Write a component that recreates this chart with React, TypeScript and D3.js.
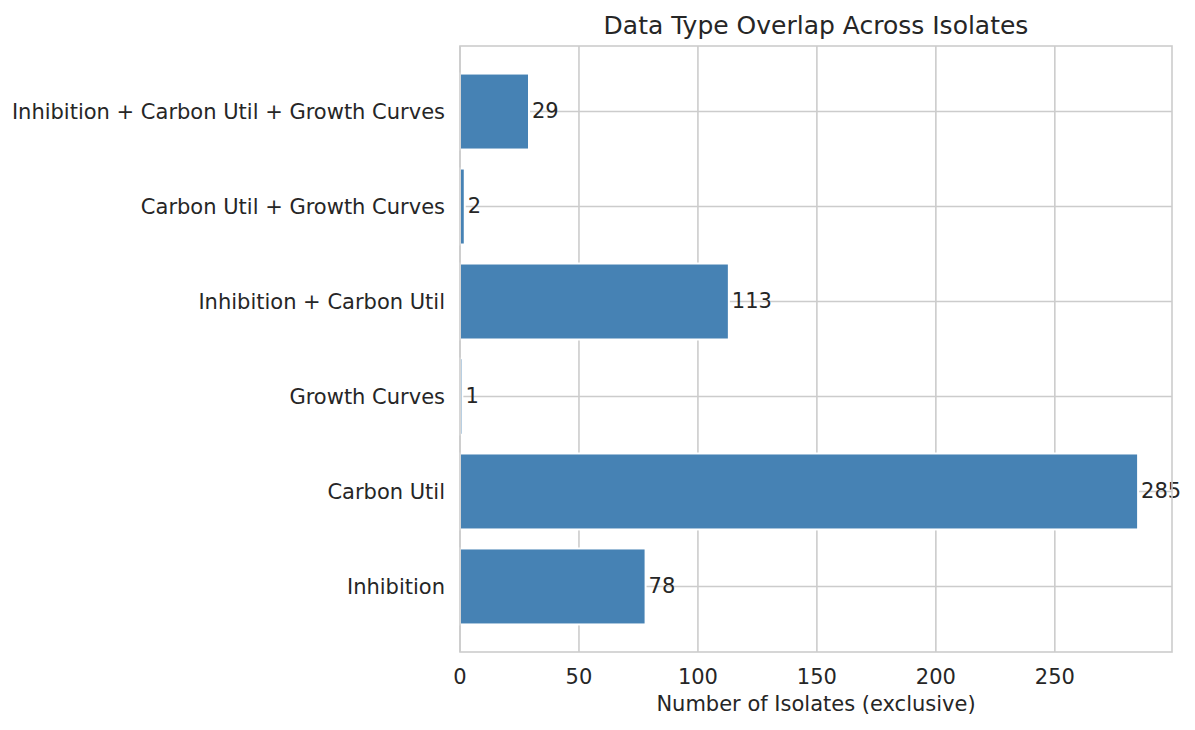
import React, { useEffect, useRef } from "react";
import * as d3 from "d3";

// Categories (bottom to top) and exclusive isolate counts
const categories = [
  "Inhibition",
  "Carbon Util",
  "Growth Curves",
  "Inhibition + Carbon Util",
  "Carbon Util + Growth Curves",
  "Inhibition + Carbon Util + Growth Curves",
];
const counts = [78, 285, 1, 113, 2, 29];
const xTicks = [0, 50, 100, 150, 200, 250];

const App: React.FC = () => {
  const svgRef = useRef<SVGSVGElement>(null);

  useEffect(() => {
    if (!svgRef.current) return;
    document.body.style.margin = "0";

    d3.select(svgRef.current).selectAll("*").remove();

    const width = 1195;
    const height = 730;
    const margin = { top: 46, right: 23, bottom: 78, left: 460 };
    const innerW = width - margin.left - margin.right;
    const innerH = height - margin.top - margin.bottom;
    const textColor = "#262626";
    const gridColor = "#cccccc";
    const font = "'DejaVu Sans', sans-serif";
    const tickSize = "21px";

    const svg = d3
      .select(svgRef.current)
      .attr("width", width)
      .attr("height", height)
      .style("display", "block")
      .style("font-family", font);

    svg.append("rect").attr("width", width).attr("height", height).attr("fill", "#ffffff");

    const g = svg
      .append("g")
      .attr("transform", `translate(${margin.left},${margin.top})`);

    const maxVal = d3.max(counts) || 0;
    const x = d3
      .scaleLinear()
      .domain([0, maxVal * 1.05])
      .range([0, innerW]);

    // matplotlib-like y limits: bar height 0.8, 5% margins
    const n = categories.length;
    const lo = -0.4 - 0.05 * (n - 1 + 0.8);
    const hi = n - 1 + 0.4 + 0.05 * (n - 1 + 0.8);
    const y = d3.scaleLinear().domain([lo, hi]).range([innerH, 0]);
    const barH = Math.abs(y(0.8) - y(0));

    // Grid lines
    g.append("g")
      .selectAll("line")
      .data(xTicks)
      .enter()
      .append("line")
      .attr("x1", (d) => x(d))
      .attr("x2", (d) => x(d))
      .attr("y1", 0)
      .attr("y2", innerH)
      .attr("stroke", gridColor)
      .attr("stroke-width", 1.6);

    g.append("g")
      .selectAll("line")
      .data(categories)
      .enter()
      .append("line")
      .attr("x1", 0)
      .attr("x2", innerW)
      .attr("y1", (_, i) => y(i))
      .attr("y2", (_, i) => y(i))
      .attr("stroke", gridColor)
      .attr("stroke-width", 1.6);

    // Bars
    g.append("g")
      .selectAll("rect")
      .data(counts)
      .enter()
      .append("rect")
      .attr("x", x(0))
      .attr("y", (_, i) => y(i) - barH / 2)
      .attr("width", (d) => x(d) - x(0))
      .attr("height", barH)
      .attr("fill", "#4682b4")
      .attr("stroke", "#ffffff")
      .attr("stroke-width", 2);

    // Value labels
    g.append("g")
      .selectAll("text")
      .data(counts)
      .enter()
      .append("text")
      .attr("x", (d) => x(d) + 3)
      .attr("y", (_, i) => y(i))
      .attr("dy", "0.33em")
      .attr("fill", textColor)
      .style("font-size", tickSize)
      .text((d) => d);

    // Spines
    g.append("rect")
      .attr("x", 0)
      .attr("y", 0)
      .attr("width", innerW)
      .attr("height", innerH)
      .attr("fill", "none")
      .attr("stroke", gridColor)
      .attr("stroke-width", 1.6);

    // X tick labels
    g.append("g")
      .selectAll("text")
      .data(xTicks)
      .enter()
      .append("text")
      .attr("x", (d) => x(d))
      .attr("y", innerH + 31.5)
      .attr("text-anchor", "middle")
      .attr("fill", textColor)
      .style("font-size", tickSize)
      .text((d) => d);

    // Y tick labels
    g.append("g")
      .selectAll("text")
      .data(categories)
      .enter()
      .append("text")
      .attr("x", -15)
      .attr("y", (_, i) => y(i))
      .attr("dy", "0.35em")
      .attr("text-anchor", "end")
      .attr("fill", textColor)
      .style("font-size", tickSize)
      .text((d) => d);

    // Axis label
    g.append("text")
      .attr("x", innerW / 2)
      .attr("y", innerH + 59)
      .attr("text-anchor", "middle")
      .attr("fill", textColor)
      .style("font-size", tickSize)
      .text("Number of Isolates (exclusive)");

    // Title
    g.append("text")
      .attr("x", innerW / 2)
      .attr("y", -12)
      .attr("text-anchor", "middle")
      .attr("fill", textColor)
      .style("font-size", "25px")
      .text("Data Type Overlap Across Isolates");
  }, []);

  return <svg ref={svgRef}></svg>;
};

export default App;
